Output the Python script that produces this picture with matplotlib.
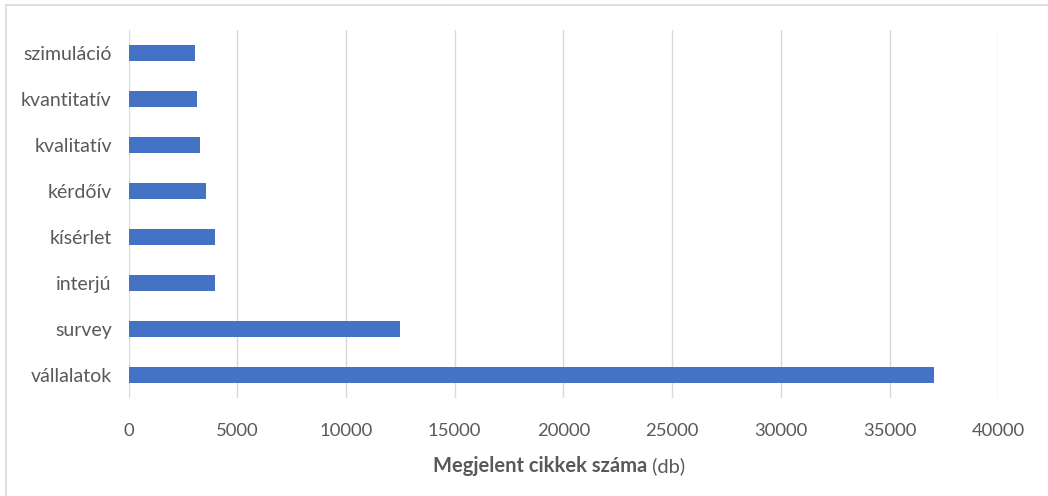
import matplotlib
matplotlib.use("Agg")
import matplotlib.pyplot as plt
from matplotlib.patches import Rectangle

categories = ["vállalatok", "survey", "interjú", "kísérlet", "kérdőív",
              "kvalitatív", "kvantitatív", "szimuláció"]
counts = [37050, 12500, 4000, 4000, 3570, 3300, 3140, 3060]
xticks = [0, 5000, 10000, 15000, 20000, 25000, 30000, 35000, 40000]

plt.rcParams['font.family'] = ['Lato', 'DejaVu Sans']
grey = '#595959'

fig = plt.figure(figsize=(10.48, 4.96), dpi=100)
ax = fig.add_axes([128.5/1048, 1-398/496, (998.3-128.5)/1048, 368/496])

pos = list(range(len(categories)))
ax.barh(pos, counts, height=0.35, color='#4472C4', zorder=3)
ax.set_ylim(-0.5, len(categories)-0.5)
ax.set_xlim(0, 40000)
ax.set_xticks(xticks)
ax.set_xticklabels([str(t) for t in xticks])
ax.set_yticks(pos)
ax.set_yticklabels(categories)
ax.tick_params(axis='both', length=0, colors=grey)
ax.tick_params(axis='x', pad=18, labelsize=13.3)
ax.tick_params(axis='y', pad=12, labelsize=14)
ax.grid(axis='x', color='#d9d9d9', lw=1, zorder=0)
for s in ax.spines.values():
    s.set_visible(False)

# outer chart border
fig.patches.append(Rectangle((6/1048, -0.1), 1.1, 1-5/496+0.1, transform=fig.transFigure,
                             fill=False, ec='#d9d9d9', lw=1.2))

# x label: bold part + normal part
cx, ly = 559/1048, 1-466/496
t1 = fig.text(0, ly, "Megjelent cikkek száma", fontsize=14.5, fontweight='bold',
              color=grey, va='center', ha='left')
t2 = fig.text(0, ly, " (db)", fontsize=14.5, color=grey, va='center', ha='left')
fig.canvas.draw()
r = fig.canvas.get_renderer()
w1 = t1.get_window_extent(r).width / fig.bbox.width
w2 = t2.get_window_extent(r).width / fig.bbox.width
x0 = cx - (w1 + w2) / 2
t1.set_x(x0)
t2.set_x(x0 + w1)

fig.savefig("out.png", dpi=100)
plt.close(fig)
